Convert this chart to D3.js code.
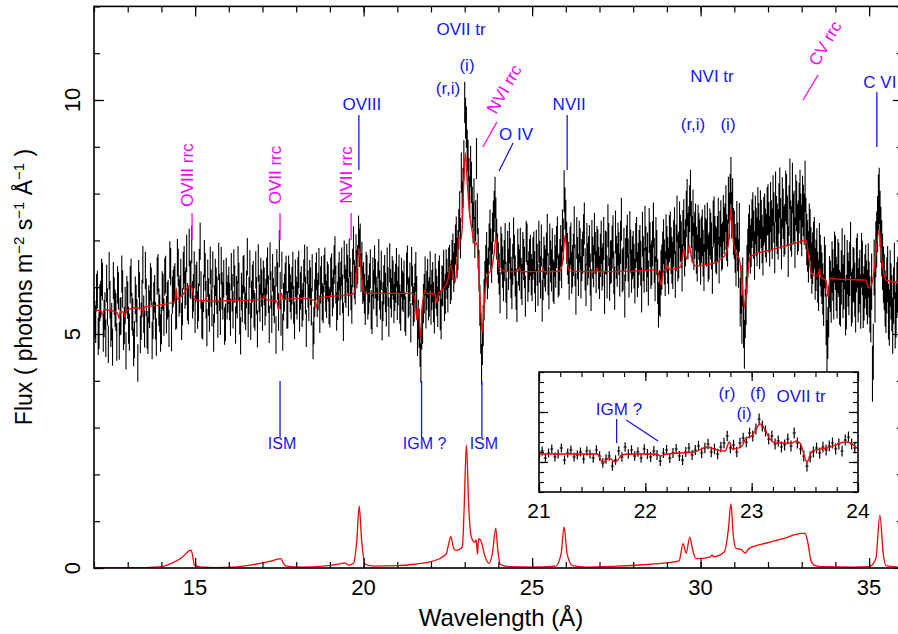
<!DOCTYPE html>
<html><head><meta charset="utf-8">
<script src="https://cdn.jsdelivr.net/npm/d3@7"></script>
<style>
body{margin:0;background:#fff}
svg{display:block}
text{font-family:"Liberation Sans",Arial,Helvetica,sans-serif}
</style>
</head><body>
<svg id="c" width="898" height="634"></svg>
<script>
// ---------------- DATA ----------------
// spectrum sampled on 0.025 Å bins: fluxA holds bins starting at 12.000 Å, fluxB the bins in between (12.025 Å ...)
const binStart = 12.0, binStep = 0.05, binWidth = 0.025;
const fluxA = [
 5.62,5.21,5.95,5.08,5.74,6.12,5.33,4.91,5.58,6.35,5.12,4.72,5.81,5.47,6.05,4.85,5.39,5.96,5.18,4.64,
 5.72,5.04,6.21,5.36,4.88,5.65,4.38,5.92,5.27,6.48,5.11,5.78,4.97,5.53,6.02,5.29,5.86,4.93,6.31,5.44,
 5.18,5.89,6.22,5.41,5.76,6.58,5.03,5.97,6.11,5.52,6.42,5.85,5.27,6.35,5.94,6.72,5.61,6.18,6.91,5.88,
 5.42,6.15,5.68,6.98,5.31,5.87,6.33,5.14,5.79,6.47,5.56,5.02,6.21,5.83,6.55,5.38,5.92,6.18,5.25,5.71,
 6.04,5.36,5.88,6.41,5.19,5.73,6.12,4.96,5.65,6.29,5.48,6.65,5.82,5.27,6.08,5.54,6.37,5.11,5.86,6.23,
 5.47,6.02,5.78,6.45,5.21,5.94,6.31,5.63,4.98,6.13,6.82,5.36,5.04,5.88,6.27,5.52,6.09,5.71,6.36,5.29,
 5.83,6.24,5.45,6.05,5.69,6.51,5.12,5.96,6.18,5.58,4.86,5.77,6.34,5.91,5.42,6.26,5.63,6.45,5.74,6.09,
 5.55,6.31,5.97,6.68,5.48,6.12,5.81,6.44,5.26,6.07,6.52,5.79,6.21,5.63,6.89,6.04,6.38,7.12,6.95,6.56,
 6.12,5.61,6.27,5.84,6.39,5.42,5.95,6.18,5.57,6.61,5.73,5.28,6.05,5.89,6.43,5.36,5.97,6.24,5.65,6.08,
 5.72,6.28,5.49,5.93,6.15,5.38,6.47,5.81,5.24,6.04,5.67,6.33,4.95,5.12,4.38,5.21,5.86,5.54,6.19,5.79,
 5.63,6.11,5.44,5.97,5.58,6.25,5.32,6.02,5.71,6.38,5.89,6.47,6.15,6.72,6.51,7.08,6.79,7.62,8.45,8.12,
 9.95,9.42,8.71,7.93,8.24,7.38,7.06,8.75,6.82,5.61,4.35,5.18,6.12,6.74,6.41,7.22,6.53,7.41,7.92,7.03,
 6.52,5.88,6.71,6.14,6.93,5.76,6.38,6.61,5.97,7.05,6.24,5.69,6.47,6.83,6.06,6.59,5.81,6.92,6.33,6.68,
 6.15,6.74,5.92,6.48,6.97,6.21,5.71,6.63,6.36,7.12,5.98,6.55,6.81,6.09,6.44,7.06,6.27,6.88,7.21,8.05,
 7.42,6.71,6.18,6.93,6.45,7.28,5.86,6.62,6.97,6.21,6.74,7.36,6.05,6.49,6.88,5.94,6.63,7.14,6.32,6.79,
 6.21,6.96,6.48,5.89,6.73,7.31,6.17,6.55,7.08,5.98,6.64,6.92,6.26,7.45,6.39,5.81,6.86,6.58,7.17,6.34,
 6.72,6.13,7.02,6.47,6.85,5.94,6.61,7.26,6.38,6.09,6.91,6.52,7.33,6.18,6.74,5.62,5.85,6.43,6.97,6.29,
 6.81,6.35,7.12,6.58,6.93,6.27,7.46,6.69,7.05,6.41,7.38,6.95,7.81,7.23,8.01,7.02,6.87,7.29,6.62,7.08,
 6.55,7.16,6.42,6.98,7.31,6.67,7.09,6.36,7.44,6.81,7.02,6.58,7.36,6.89,7.21,7.68,6.94,7.52,8.28,7.83,
 7.12,6.54,6.86,7.28,5.95,6.12,4.78,5.71,6.73,7.24,6.95,7.51,6.68,7.18,7.62,6.91,7.35,6.77,7.48,7.05,
 7.66,6.98,7.32,7.85,6.84,7.41,7.13,8.02,6.92,7.57,7.24,7.88,6.76,8.21,7.19,7.46,6.95,7.73,7.31,7.97,
 7.21,7.64,8.15,7.02,6.65,7.12,6.41,6.85,6.28,6.71,6.04,6.57,6.19,5.72,6.35,4.75,5.48,6.02,6.43,5.86,
 6.52,5.91,6.37,5.74,6.68,6.11,5.55,6.43,5.98,6.82,5.82,6.25,5.61,6.57,6.04,5.69,6.41,5.87,6.33,5.79,
 5.95,5.42,4.15,6.42,6.81,7.35,7.95,7.12,6.54,6.11,5.62,6.28,5.35,5.91,5.18,6.35,5.52,6.05
];
const fluxB = [
 5.31,5.88,4.95,5.67,6.21,5.02,5.49,6.08,4.78,5.73,5.26,6.14,5.55,4.83,5.92,5.37,6.28,5.06,5.61,5.84,
 5.19,6.05,5.48,4.71,5.83,5.34,6.18,4.99,5.76,5.42,6.36,5.09,5.64,6.11,4.86,5.71,5.28,6.24,5.57,5.02,
 5.94,5.36,6.27,5.71,5.12,6.44,5.83,6.05,5.49,6.63,5.77,6.21,5.58,6.48,6.02,5.69,6.85,6.14,5.73,6.37,
 6.08,5.51,6.42,5.94,5.28,6.61,5.73,6.19,5.45,5.98,6.37,5.64,6.02,5.32,5.89,6.46,5.71,5.17,6.23,5.86,
 5.69,6.33,5.52,6.07,5.84,6.48,5.39,5.91,6.26,5.61,5.95,5.33,6.39,5.74,6.16,5.47,5.82,6.52,5.66,5.98,
 6.17,5.58,6.24,5.85,6.56,5.42,5.79,6.05,6.41,5.47,5.93,6.36,5.69,6.12,5.51,6.28,5.87,6.03,5.62,6.19,
 5.71,6.38,5.92,5.55,6.19,5.83,6.47,5.67,6.02,6.31,5.18,6.12,5.76,6.44,6.05,5.69,6.29,5.88,6.15,5.61,
 6.23,5.79,6.48,6.06,5.71,6.35,6.14,5.86,6.59,5.97,6.28,6.63,5.92,6.41,6.17,6.72,6.49,6.84,6.31,6.05,
 5.86,6.34,5.73,6.09,5.52,6.22,6.47,5.81,6.13,5.94,6.36,5.69,6.27,5.58,6.01,6.52,5.77,6.15,5.91,6.42,
 6.03,5.64,6.21,5.89,5.47,6.32,5.76,6.11,6.44,5.59,6.08,5.82,5.31,4.72,5.09,5.65,6.24,5.93,5.71,6.35,
 5.94,5.68,6.29,5.81,6.13,5.51,6.04,6.37,5.86,6.18,6.42,6.07,6.58,6.33,6.91,6.62,7.24,7.05,7.83,8.71,
 9.61,8.93,8.32,8.58,7.71,7.89,7.42,7.57,6.35,5.02,4.78,5.73,6.46,6.18,6.92,6.81,7.15,7.62,7.48,6.71,
 6.28,6.85,6.43,6.57,6.11,6.76,6.95,6.21,6.49,6.68,5.96,6.81,6.37,6.19,6.74,6.42,6.98,6.13,6.59,6.27,
 6.61,6.32,6.78,6.05,6.54,6.89,6.17,6.45,6.72,6.28,6.91,6.36,6.14,6.67,6.86,6.23,6.58,6.43,7.02,7.68,
 6.95,6.52,6.84,6.31,6.69,6.47,7.05,6.26,6.81,6.58,7.11,6.38,6.92,6.64,6.27,6.99,6.45,6.73,6.86,6.41,
 6.68,6.39,7.04,6.75,6.22,6.91,6.53,6.86,6.31,7.18,6.47,6.72,6.96,6.35,6.81,6.59,7.09,6.24,6.77,6.63,
 6.45,6.89,6.27,6.74,6.51,7.13,6.36,6.82,6.69,7.21,6.44,6.93,6.57,7.02,6.12,5.88,6.31,6.71,6.54,7.08,
 6.57,7.04,6.78,6.46,7.21,6.84,6.62,7.33,6.91,7.15,6.73,7.56,7.09,7.68,7.34,7.59,7.11,6.79,7.26,6.95,
 7.01,6.73,7.26,6.94,6.61,7.18,6.88,7.35,7.02,6.77,7.41,7.13,6.85,7.47,7.29,7.06,7.86,7.92,7.54,7.19,
 6.83,7.32,6.51,5.68,5.31,5.22,5.43,6.38,7.05,6.81,7.36,7.12,7.44,6.97,7.28,7.55,7.03,7.41,7.16,7.62,
 7.28,7.71,7.14,7.49,7.93,7.25,7.68,7.36,7.81,7.19,7.95,7.42,7.64,7.31,8.12,7.52,7.87,7.23,7.69,7.46,
 7.83,7.45,7.36,6.88,7.24,6.73,6.62,6.95,6.47,6.21,6.82,6.35,5.96,6.53,5.31,5.02,6.11,5.79,6.26,6.64,
 6.07,6.45,5.78,6.21,5.92,6.54,5.68,6.16,6.39,5.74,6.28,5.95,6.47,5.83,6.22,6.58,5.71,6.13,5.99,6.36,
 5.63,6.12,4.62,5.84,7.02,7.81,7.46,6.83,6.27,5.76,6.04,5.48,6.19,5.66,5.82,5.29,5.94,5.71
];
// 1-sigma error per 1-Å interval, 12..35 Å
const errByAngstrom = [0.4,0.4,0.4,0.4,0.4,0.4,0.4,0.41,0.42,0.42,0.43,0.44,0.44,0.45,0.45,0.46,0.48,0.5,0.5,0.52,0.54,0.55,0.58,0.6];

// best-fit model [λ, flux]
const modelMain = [
 [12.0,5.51],[12.2,5.5],[12.25,5.4],[12.3,5.52],[12.5,5.5],[12.7,5.45],[12.74,5.33],[12.78,5.48],[12.88,5.47],[12.92,5.36],[12.96,5.5],
 [13.2,5.56],[13.42,5.55],[13.46,5.45],[13.5,5.58],[14.0,5.62],[14.4,5.7],[14.44,5.98],[14.47,5.74],[14.7,5.9],[14.88,6.07],[14.93,5.9],
 [14.98,5.75],[15.1,5.72],[15.3,5.71],[15.33,5.78],[15.36,5.7],[16.0,5.71],[16.5,5.72],[17.0,5.74],[17.05,5.82],[17.1,5.74],[17.43,5.7],
 [17.47,5.52],[17.52,5.72],[17.56,5.88],[17.61,5.74],[17.9,5.75],[18.2,5.76],[18.55,5.72],[18.6,5.56],[18.66,5.76],[19.0,5.8],[19.5,5.83],
 [19.7,5.86],[19.78,6.1],[19.86,6.83],[19.93,6.3],[20.0,5.95],[20.05,5.87],[21.0,5.87],[21.45,5.87],[21.52,5.75],[21.58,5.3],[21.62,5.6],
 [21.66,5.2],[21.69,4.92],[21.74,5.6],[21.8,5.88],[21.83,5.95],[21.87,5.87],[22.12,5.86],[22.17,5.68],[22.22,5.86],[22.35,5.95],[22.5,6.15],
 [22.58,6.47],[22.64,6.3],[22.72,6.12],[22.78,6.6],[22.82,7.08],[22.88,7.0],[22.92,7.2],[22.97,8.2],[23.02,8.87],[23.07,8.3],[23.14,7.6],
 [23.22,7.2],[23.3,6.9],[23.36,6.95],[23.42,6.3],[23.47,5.6],[23.52,5.02],[23.58,5.7],[23.66,6.22],[23.8,6.4],[23.87,6.7],[23.93,7.08],
 [23.98,6.6],[24.05,6.37],[24.4,6.33],[24.6,6.35],[24.63,6.42],[24.66,6.33],[25.3,6.34],[25.33,6.4],[25.36,6.33],[25.8,6.34],[25.9,6.5],
 [25.98,7.11],[26.05,6.5],[26.12,6.35],[26.9,6.33],[26.93,6.4],[26.96,6.33],[27.9,6.34],[28.7,6.37],[28.78,6.2],[28.83,6.05],[28.88,6.3],
 [28.94,6.37],[29.0,6.38],[29.03,6.48],[29.06,6.38],[29.3,6.4],[29.42,6.45],[29.5,6.8],[29.58,6.6],[29.66,6.88],[29.74,6.6],[29.86,6.45],
 [30.2,6.48],[30.43,6.52],[30.6,6.6],[30.73,6.69],[30.82,6.9],[30.9,7.69],[30.97,7.0],[31.05,6.72],[31.15,6.6],[31.22,6.2],[31.3,5.58],
 [31.37,6.0],[31.46,6.62],[31.6,6.7],[32.0,6.78],[32.5,6.88],[33.0,6.98],[33.13,7.0],[33.2,6.7],[33.27,6.35],[33.4,6.24],[33.5,6.28],
 [33.53,6.4],[33.56,6.22],[33.72,6.15],[33.78,5.8],[33.84,6.2],[34.0,6.18],[34.9,6.15],[34.98,6.0],[35.04,5.98],[35.14,6.3],[35.3,7.22],
 [35.38,6.6],[35.5,6.15],[35.86,6.1]
];
// emission component of the model [λ, flux]
const modelEmission = [
 [12.0,0],[13.0,0.005],[13.5,0.01],[14.0,0.03],[14.3,0.1],[14.6,0.22],[14.88,0.38],[14.93,0.25],[14.98,0.06],[15.2,0.02],[15.6,0.01],
 [16.2,0.02],[16.8,0.08],[17.2,0.14],[17.55,0.2],[17.62,0.1],[17.7,0.04],[18.2,0.02],[18.8,0.04],[19.3,0.09],[19.45,0.11],[19.55,0.06],
 [19.7,0.1],[19.8,0.6],[19.87,1.32],[19.94,0.6],[20.05,0.08],[20.3,0.04],[21.0,0.05],[21.5,0.08],[21.9,0.12],[22.3,0.22],[22.45,0.3],
 [22.52,0.5],[22.59,0.67],[22.66,0.45],[22.72,0.38],[22.85,0.4],[22.93,0.45],[22.98,1.2],[23.05,2.63],[23.12,1.3],[23.2,0.65],[23.3,0.55],
 [23.34,0.6],[23.38,0.3],[23.41,0.62],[23.47,0.6],[23.6,0.25],[23.72,0.1],[23.82,0.3],[23.92,0.85],[23.98,0.4],[24.05,0.08],[24.3,0.03],
 [25.0,0.02],[25.7,0.04],[25.86,0.3],[25.95,0.88],[26.04,0.3],[26.2,0.05],[26.6,0.02],[27.5,0.04],[28.5,0.08],[29.1,0.12],[29.36,0.15],
 [29.48,0.52],[29.57,0.32],[29.68,0.66],[29.76,0.4],[29.86,0.2],[30.3,0.24],[30.34,0.28],[30.38,0.24],[30.7,0.34],[30.82,0.8],[30.9,1.37],
 [30.97,0.7],[31.05,0.42],[31.2,0.4],[31.32,0.32],[31.44,0.42],[32.0,0.54],[32.5,0.64],[33.0,0.74],[33.1,0.74],[33.18,0.55],[33.28,0.15],
 [33.4,0.05],[33.6,0.03],[34.5,0.02],[35.0,0.03],[35.2,0.2],[35.32,1.13],[35.42,0.3],[35.5,0.05],[35.86,0.02]
];

// inset (zoom on 21-24 Å)
const insetStart = 21.0, insetBin = 0.03;
const insetFlux = [
 5.6,6.1,5.4,5.9,6.3,5.5,5.8,6.4,5.2,5.9,
 6.2,5.5,5.7,6.0,5.3,6.1,5.8,5.4,6.2,5.6,
 4.9,5.3,5.6,4.6,5.2,6.1,5.5,6.5,5.8,6.2,
 5.6,6.0,5.4,6.3,5.8,5.5,6.1,5.7,5.1,5.9,
 6.2,5.4,5.9,6.3,5.6,5.2,6.0,6.4,5.7,6.2,
 6.6,5.9,6.4,6.8,6.0,6.3,5.8,6.5,6.9,7.6,
 6.4,6.7,6.0,6.9,7.4,7.0,7.9,7.6,8.3,9.3,
 8.6,8.1,7.3,7.6,6.8,7.1,6.5,6.7,7.3,6.6,
 7.9,6.9,6.3,5.6,4.6,5.5,6.0,6.4,5.9,6.5,
 6.2,6.6,6.9,6.3,6.8,6.1,7.2,7.5,6.8,6.4
];
const insetErrByHalfAngstrom = [0.45,0.48,0.5,0.52,0.55,0.55];
const insetModel = [
 [21.0,5.8],[21.55,5.8],[21.6,4.95],[21.66,5.4],[21.72,5.0],[21.78,5.7],[21.85,5.8],[22.1,5.8],[22.15,5.6],[22.2,5.8],[22.46,6.0],
 [22.58,6.5],[22.68,6.2],[22.75,6.1],[22.79,7.0],[22.82,6.3],[22.9,6.5],[22.95,7.4],[23.0,7.6],[23.08,8.8],[23.18,7.2],[23.22,6.9],
 [23.38,6.9],[23.42,7.1],[23.46,6.8],[23.52,5.0],[23.57,6.1],[23.71,6.4],[23.89,7.0],[23.98,6.5],[24.0,6.3]
];

const xMajorTicks = [15,20,25,30,35];
const yMajorTicks = [0,5,10];
const insetXMajorTicks = [21,22,23,24];
const insetYMajorTicks = [5,10];

// ---------------- DRAW ----------------
const svg = d3.select("#c");
const defs = svg.append("defs");
const BLUE = "#1414ff", MAG = "#ff00ff", RED = "#ff0000";
const L = 94, R = 902.8, T = 6.4, B = 568;
const x = d3.scaleLinear().domain([12,36]).range([L,R]);
const y = d3.scaleLinear().domain([0,12]).range([B,T]);

defs.append("clipPath").attr("id","clipMain")
  .append("rect").attr("x",L).attr("y",T).attr("width",R-L).attr("height",B-T);

const errOf = l => errByAngstrom[Math.min(errByAngstrom.length-1, Math.floor(l-12+1e-9))];

// data error bars
const gData = svg.append("g").attr("clip-path","url(#clipMain)");
let p = "";
[[fluxA,0],[fluxB,binWidth]].forEach(([arr,off])=>{
  arr.forEach((f,i)=>{
    const l = binStart + off + i*binStep, e = errOf(l);
    p += `M${x(l)},${y(f-e)}V${y(f+e)}M${x(l-binWidth/2)},${y(f)}H${x(l+binWidth/2)}`;
  });
});
gData.append("path").attr("d",p).attr("stroke","#000").attr("stroke-width",1.1).attr("fill","none");

const line = d3.line().x(d=>x(d[0])).y(d=>y(d[1])).curve(d3.curveMonotoneX);
gData.append("path").attr("d",line(modelMain)).attr("stroke",RED).attr("stroke-width",1.3).attr("fill","none");
gData.append("path").attr("d",line(modelEmission)).attr("stroke",RED).attr("stroke-width",1.3).attr("fill","none");

// axes (ticks inward)
function axes(g, xs, ys, xMinor, yMinor, xMaj, yMaj, minorLen, majorLen){
  const [x0,x1] = xs.range(), [y0,y1] = ys.range();
  g.append("g").attr("transform",`translate(0,${y0})`).call(d3.axisBottom(xs).tickValues(xMinor).tickSize(-minorLen).tickSizeOuter(0).tickFormat(""));
  g.append("g").attr("transform",`translate(0,${y0})`).call(d3.axisBottom(xs).tickValues(xMaj).tickSize(-majorLen).tickSizeOuter(0).tickFormat(""));
  g.append("g").attr("transform",`translate(0,${y1})`).call(d3.axisTop(xs).tickValues(xMinor).tickSize(-minorLen).tickSizeOuter(0).tickFormat(""));
  g.append("g").attr("transform",`translate(0,${y1})`).call(d3.axisTop(xs).tickValues(xMaj).tickSize(-majorLen).tickSizeOuter(0).tickFormat(""));
  g.append("g").attr("transform",`translate(${x0},0)`).call(d3.axisLeft(ys).tickValues(yMinor).tickSize(-minorLen).tickSizeOuter(0).tickFormat(""));
  g.append("g").attr("transform",`translate(${x0},0)`).call(d3.axisLeft(ys).tickValues(yMaj).tickSize(-majorLen).tickSizeOuter(0).tickFormat(""));
  g.append("g").attr("transform",`translate(${x1},0)`).call(d3.axisRight(ys).tickValues(yMinor).tickSize(-minorLen).tickSizeOuter(0).tickFormat(""));
  g.append("g").attr("transform",`translate(${x1},0)`).call(d3.axisRight(ys).tickValues(yMaj).tickSize(-majorLen).tickSizeOuter(0).tickFormat(""));
  g.selectAll(".domain").remove();
  g.selectAll(".tick line").attr("stroke","#000").attr("stroke-width",1.2);
  g.append("rect").attr("x",x0).attr("y",y1).attr("width",x1-x0).attr("height",y0-y1)
    .attr("fill","none").attr("stroke","#000").attr("stroke-width",1.6);
}
const gAx = svg.append("g");
axes(gAx, x, y, d3.range(12,37), d3.range(0,13), xMajorTicks, yMajorTicks, 6, 10);

// tick labels
svg.append("g").selectAll("text").data(xMajorTicks).join("text")
  .attr("x",d=>x(d)).attr("y",595).attr("text-anchor","middle").attr("font-size",22).text(d=>d);
svg.append("g").selectAll("text").data(yMajorTicks).join("text")
  .attr("transform",d=>`translate(80,${y(d)}) rotate(-90)`).attr("text-anchor","middle").attr("font-size",22).text(d=>d);

// axis titles
svg.append("text").attr("x",501).attr("y",626).attr("text-anchor","middle").attr("font-size",24).text("Wavelength (Å)");
const yt = svg.append("text").attr("transform","translate(32,287) rotate(-90)").attr("text-anchor","middle").attr("font-size",23);
yt.append("tspan").text("Flux ( photons m");
yt.append("tspan").attr("dy",-8).attr("font-size",15).text("−2");
yt.append("tspan").attr("dy",8).text(" s");
yt.append("tspan").attr("dy",-8).attr("font-size",15).text("−1");
yt.append("tspan").attr("dy",8).text(" Å");
yt.append("tspan").attr("dy",-8).attr("font-size",15).text("−1");
yt.append("tspan").attr("dy",8).text(" )");

// ---------------- annotations (main panel) ----------------
let gA = svg.append("g");
function seg(x1,y1,x2,y2,c){ gA.append("line").attr("x1",x1).attr("y1",y1).attr("x2",x2).attr("y2",y2).attr("stroke",c).attr("stroke-width",1.3); }
function label(t,px,py,c,opt={}){
  const el = gA.append("text").attr("fill",c).attr("font-size",opt.size||17).attr("text-anchor",opt.anchor||"middle").text(t);
  if(opt.rot!==undefined) el.attr("transform",`translate(${px},${py}) rotate(${opt.rot})`);
  else el.attr("x",px).attr("y",py);
  return el;
}
// magenta radiative recombination continua
const rrcVertical = [["OVIII rrc",14.91],["OVII rrc",17.52],["NVII rrc",19.63]];
rrcVertical.forEach(([t,l])=>{
  seg(x(l),213,x(l),240,MAG);
  label(t,x(l)+1,175,MAG,{rot:-90});
});
// NVI rrc (slanted)
seg(x(23.54),147,x(23.54)+14,122,MAG);
label("NVI rrc",x(23.54)+13,115,MAG,{rot:-60,anchor:"start"});
// CV rrc (slanted)
seg(x(33.04),100,x(33.04)+15,75,MAG);
label("CV rrc",x(33.04)+15,67,MAG,{rot:-60,anchor:"start"});

// blue emission line identifications
seg(x(19.86),115,x(19.86),170,BLUE); label("OVIII",x(19.86)+3,110,BLUE);
seg(x(26.04),115,x(26.04),170,BLUE); label("NVII",x(26.04)+2,110,BLUE);
seg(x(35.23),92,x(35.23),147,BLUE); label("C VI",x(35.23)+3,88,BLUE);
seg(x(24.02),171,x(24.02)+14,143,BLUE); label("O IV",x(24.02)+17,140,BLUE);
label("OVII tr",461,35,BLUE);
label("(i)",467,71,BLUE);
label("(r,i)",448,94,BLUE);
label("NVI tr",712,82,BLUE);
label("(r,i)",693,130,BLUE);
label("(i)",728,130,BLUE);
// absorption identifications
const absLines = [["ISM",17.52],["IGM ?",21.72],["ISM",23.51]];
absLines.forEach(([t,l],i)=>{
  seg(x(l),381,x(l),437,BLUE);
  label(t,x(l)+(i===1?3:2),449,BLUE,{size:16});
});

// ---------------- inset ----------------
const xi = d3.scaleLinear().domain([21,24]).range([539,858]);
const yi = d3.scaleLinear().domain([2,14]).range([492,372]);
const gI = svg.append("g");
gI.append("rect").attr("x",539).attr("y",372).attr("width",319).attr("height",120).attr("fill","#fff");
defs.append("clipPath").attr("id","clipIn")
  .append("rect").attr("x",539).attr("y",372).attr("width",319).attr("height",120);
const gId = gI.append("g").attr("clip-path","url(#clipIn)");
let pi = "";
insetFlux.forEach((f,i)=>{
  const l = insetStart + i*insetBin;
  const e = insetErrByHalfAngstrom[Math.min(5,Math.floor((l-21)*2+1e-9))];
  pi += `M${xi(l)},${yi(f-e)}V${yi(f+e)}M${xi(l-insetBin/2)},${yi(f)}H${xi(l+insetBin/2)}`;
});
gId.append("path").attr("d",pi).attr("stroke","#000").attr("stroke-width",1.2).attr("fill","none");
const linei = d3.line().x(d=>xi(d[0])).y(d=>yi(d[1])).curve(d3.curveMonotoneX);
gId.append("path").attr("d",linei(insetModel)).attr("stroke",RED).attr("stroke-width",1.3).attr("fill","none");
axes(gI.append("g"), xi, yi, d3.range(21,24.01,0.2), d3.range(2,15), insetXMajorTicks, insetYMajorTicks, 5, 9);
svg.append("g").selectAll("text").data(insetXMajorTicks).join("text")
  .attr("x",d=>xi(d)).attr("y",518).attr("text-anchor","middle").attr("font-size",21).text(d=>d);

// inset labels (drawn after the inset background)
gA = svg.append("g");
seg(xi(21.73),419,xi(21.73),443,BLUE);
seg(xi(21.82),420,xi(22.12),441,BLUE);
label("IGM ?",619,415,BLUE);
label("(r)",727,399,BLUE);
label("(i)",744,419,BLUE);
label("(f)",758,399,BLUE);
label("OVII tr",801,402,BLUE);
</script>
</body></html>
